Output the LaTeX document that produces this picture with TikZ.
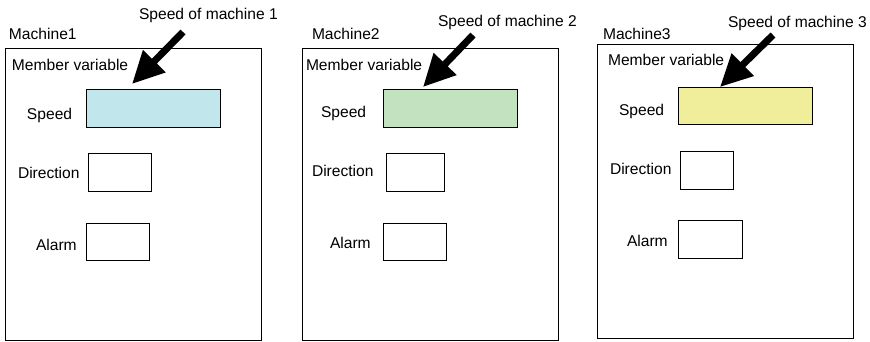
\documentclass[tikz,border=0pt]{standalone}
\usepackage{fontspec}
\setmainfont{Liberation Sans}
\usetikzlibrary{arrows.meta}
\definecolor{speedA}{RGB}{193,230,235}
\definecolor{speedB}{RGB}{195,226,192}
\definecolor{speedC}{RGB}{240,238,154}
\begin{document}
\begin{tikzpicture}[x=1pt,y=-1pt,
  every node/.style={font=\fontsize{15.6}{18}\selectfont, inner sep=0pt, outer sep=0pt},
  lbl/.style={anchor=base west},
  frame/.style={draw, line width=0.9pt, anchor=north west},
  field/.style={draw, line width=0.9pt, anchor=north west},
  pointer/.style={line width=7pt, -{Triangle[length=32pt,width=30pt]}}]
\useasboundingbox (0,0) rectangle (870,341);

% Machine 1
\node[frame, minimum width=256pt, minimum height=292pt] (m1) at (5,48) {};
\node[field, fill=speedA, minimum width=134pt, minimum height=38pt] (s1) at (86,89) {};
\node[field, minimum width=63pt, minimum height=38pt] (d1) at (88,153) {};
\node[field, minimum width=63pt, minimum height=37pt] (a1) at (86,223) {};
\node[lbl] (n1) at (9,39.3) {Machine1};
\node[lbl] (c1) at (139,19.6) {Speed of machine 1};
\node[lbl] (v1) at (12,70) {Member variable};
\node[lbl] (ls1) at (27,119) {Speed};
\node[lbl] (ld1) at (18,178.3) {Direction};
\node[lbl] (la1) at (36,250.7) {Alarm};

% Machine 2
\node[frame, minimum width=256pt, minimum height=292pt] (m2) at (302,48) {};
\node[field, fill=speedB, minimum width=134pt, minimum height=38pt] (s2) at (383,89) {};
\node[field, minimum width=58pt, minimum height=38pt] (d2) at (386,153) {};
\node[field, minimum width=63pt, minimum height=37pt] (a2) at (383,223) {};
\node[lbl] (n2) at (312,39) {Machine2};
\node[lbl] (c2) at (438,26.5) {Speed of machine 2};
\node[lbl] (v2) at (306,70) {Member variable};
\node[lbl] (ls2) at (321,117.3) {Speed};
\node[lbl] (ld2) at (312,176.7) {Direction};
\node[lbl] (la2) at (330,248.3) {Alarm};

% Machine 3
\node[frame, minimum width=256pt, minimum height=294pt] (m3) at (597,44) {};
\node[field, fill=speedC, minimum width=134pt, minimum height=37pt] (s3) at (678,87) {};
\node[field, minimum width=53pt, minimum height=38pt] (d3) at (680,151) {};
\node[field, minimum width=64pt, minimum height=38pt] (a3) at (678,220) {};
\node[lbl] (n3) at (603,39) {Machine3};
\node[lbl] (c3) at (728,27) {Speed of machine 3};
\node[lbl] (v3) at (608,65) {Member variable};
\node[lbl] (ls3) at (619,115) {Speed};
\node[lbl] (ld3) at (610,174) {Direction};
\node[lbl] (la3) at (627,246) {Alarm};

% Pointers
\coordinate (t1) at (183,32);
\coordinate (p1) at (132,84);
\coordinate (t2) at (473,35);
\coordinate (p2) at (423,87);
\coordinate (t3) at (773,35);
\coordinate (p3) at (720,87);
\draw[pointer] (t1) -- (p1);
\draw[pointer] (t2) -- (p2);
\draw[pointer] (t3) -- (p3);
\end{tikzpicture}
\end{document}
